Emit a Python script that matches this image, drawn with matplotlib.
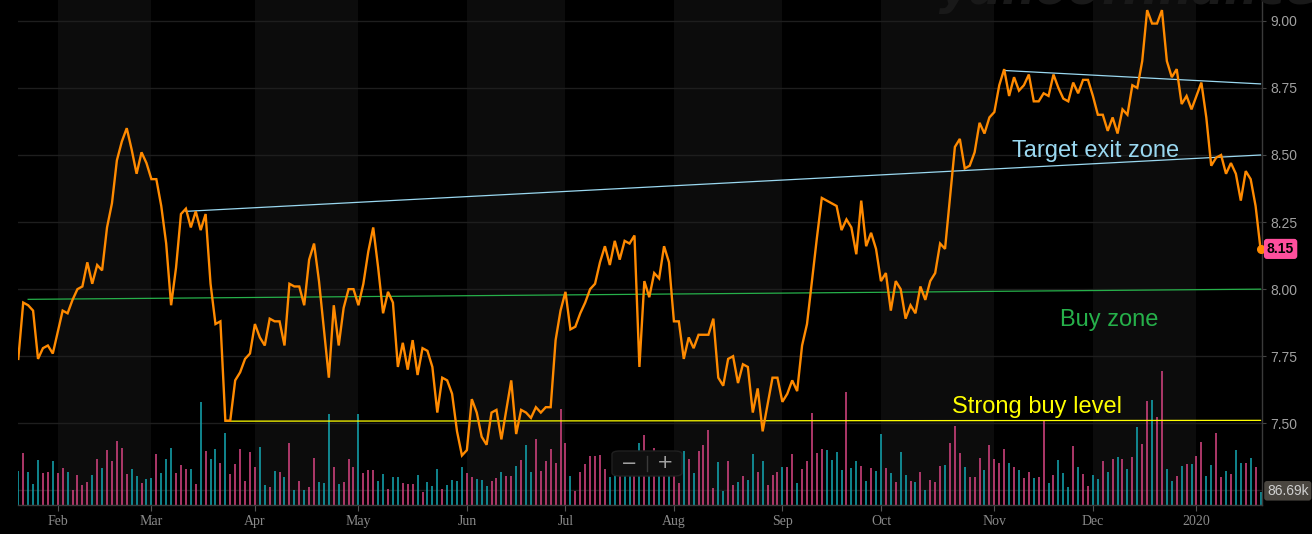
import matplotlib
matplotlib.use("Agg")
import matplotlib.pyplot as plt
import matplotlib.transforms as mtransforms
from matplotlib.patches import FancyBboxPatch
import numpy as np
import pandas as pd

# trading days (NYSE holidays removed)
holidays = ["2019-02-18", "2019-04-19", "2019-05-27", "2019-07-04", "2019-09-02",
            "2019-11-28", "2019-12-25", "2020-01-01", "2020-01-20"]
dates = pd.bdate_range("2019-01-22", "2020-01-22", freq="C", holidays=holidays)

price = [
    7.74, 7.95, 7.94, 7.92, 7.74, 7.78, 7.79, 7.76, 7.84, 7.92,
    7.91, 7.96, 8.00, 8.01, 8.10, 8.02, 8.09, 8.07, 8.23, 8.32,
    8.48, 8.55, 8.60, 8.52, 8.43, 8.51, 8.47, 8.41, 8.41, 8.31,
    8.17, 7.94, 8.08, 8.28, 8.30, 8.23, 8.29, 8.22, 8.28, 8.02,
    7.87, 7.88, 7.51, 7.51, 7.66, 7.69, 7.74, 7.76, 7.87, 7.82,
    7.79, 7.89, 7.88, 7.88, 7.79, 8.02, 8.01, 8.01, 7.94, 8.11,
    8.17, 8.03, 7.85, 7.67, 7.94, 7.79, 7.93, 8.00, 8.00, 7.94,
    8.02, 8.14, 8.23, 8.08, 7.91, 7.99, 7.95, 7.71, 7.80, 7.70,
    7.81, 7.68, 7.78, 7.77, 7.71, 7.54, 7.67, 7.66, 7.61, 7.47,
    7.38, 7.40, 7.59, 7.54, 7.45, 7.42, 7.54, 7.55, 7.44, 7.55,
    7.66, 7.46, 7.55, 7.54, 7.52, 7.56, 7.54, 7.56, 7.56, 7.81,
    7.92, 7.99, 7.85, 7.86, 7.91, 7.95, 8.00, 8.02, 8.10, 8.16,
    8.09, 8.18, 8.11, 8.18, 8.17, 8.20, 7.71, 8.03, 7.97, 8.06,
    8.04, 8.16, 8.10, 7.88, 7.88, 7.74, 7.82, 7.78, 7.83, 7.83,
    7.83, 7.89, 7.67, 7.64, 7.74, 7.75, 7.65, 7.72, 7.71, 7.54,
    7.63, 7.47, 7.57, 7.67, 7.67, 7.58, 7.61, 7.66, 7.62, 7.79,
    7.87, 8.03, 8.19, 8.34, 8.33, 8.32, 8.31, 8.22, 8.26, 8.23,
    8.13, 8.33, 8.16, 8.21, 8.15, 8.03, 8.06, 7.92, 8.03, 8.00,
    7.89, 7.94, 7.91, 8.01, 7.96, 8.03, 8.06, 8.17, 8.15, 8.34,
    8.53, 8.56, 8.45, 8.46, 8.51, 8.62, 8.58, 8.64, 8.66, 8.76,
    8.82, 8.72, 8.79, 8.74, 8.76, 8.80, 8.70, 8.70, 8.73, 8.72,
    8.80, 8.75, 8.71, 8.70, 8.77, 8.73, 8.78, 8.78, 8.72, 8.65,
    8.65, 8.59, 8.64, 8.58, 8.67, 8.65, 8.76, 8.75, 8.85, 9.04,
    8.99, 8.99, 9.04, 8.85, 8.79, 8.82, 8.69, 8.72, 8.67, 8.72,
    8.77, 8.64, 8.46, 8.49, 8.50, 8.43, 8.47, 8.43, 8.33, 8.44,
    8.41, 8.31, 8.15,
]

# volume in thousands
volume_k = [
    227, 347, 220, 140, 300, 213, 220, 293, 213, 247,
    220, 100, 200, 133, 153, 200, 307, 247, 367, 293,
    427, 380, 207, 240, 193, 147, 173, 180, 340, 213,
    307, 380, 213, 267, 240, 240, 140, 687, 360, 307,
    373, 280, 480, 207, 273, 373, 160, 353, 253, 387,
    133, 120, 227, 220, 187, 413, 100, 160, 100, 120,
    313, 153, 147, 607, 253, 140, 153, 307, 253, 607,
    213, 233, 233, 160, 207, 107, 187, 187, 147, 140,
    140, 200, 87, 153, 127, 240, 107, 133, 167, 160,
    253, 213, 187, 173, 167, 127, 160, 180, 220, 193,
    193, 260, 300, 400, 220, 440, 227, 293, 373, 280,
    640, 413, 193, 93, 220, 273, 327, 327, 333, 240,
    187, 273, 267, 253, 233, 267, 413, 467, 300, 380,
    267, 253, 233, 267, 147, 360, 307, 213, 360, 400,
    500, 113, 287, 93, 293, 133, 153, 193, 167, 340,
    220, 293, 133, 200, 220, 253, 253, 340, 147, 240,
    293, 613, 347, 373, 367, 300, 353, 233, 753, 247,
    293, 260, 160, 247, 227, 473, 247, 213, 153, 353,
    200, 160, 153, 220, 100, 167, 153, 260, 267, 413,
    527, 347, 253, 187, 187, 313, 233, 400, 307, 280,
    373, 280, 253, 233, 180, 220, 180, 187, 567, 147,
    200, 300, 213, 120, 393, 253, 207, 127, 200, 173,
    293, 220, 307, 320, 307, 240, 320, 520, 407, 693,
    700, 587, 893, 240, 160, 193, 260, 273, 273, 327,
    420, 193, 267, 480, 187, 227, 207, 367, 280, 280,
    313, 253, 86.69,
]

# u = teal bar, d = pink bar
vol_dir = ("uduuu" "ddudd" "udddd" "ududd" "ddduu" "duudu" "uuddd" "ududu"
           "ududd" "ddddu" "ududu" "dudud" "duuud" "udddu" "ddduu" "duudd"
           "duduu" "uduuu" "udduu" "uddud" "duduu" "ddddd" "ddudd" "ddddd"
           "uuduu" "dudud" "ududd" "ududd" "dduud" "duduu" "duddd" "uddud"
           "ddddu" "uuudu" "ududu" "ududu" "ududu" "dddud" "ddudd" "duddd"
           "dudud" "duddu" "duuud" "udduu" "dudud" "ududd" "udduu" "dudud"
           "duudd" "uduud" "udu")

# drawn trend lines: (date, price) end points
target_top = [("2019-11-05", 8.815), ("2020-01-22", 8.765)]
target_bottom = [("2019-03-12", 8.29), ("2020-01-22", 8.50)]
buy_line = [("2019-01-24", 7.962), ("2020-01-22", 8.00)]
strong_buy = [("2019-03-22", 7.508), ("2020-01-22", 7.511)]

last_price = 8.15
last_volume = "86.69k"

ORANGE = "#ff8a00"
SKY = "#9ad8f0"
GREEN = "#26b04a"
YELLOW = "#ffff00"
TEAL = "#13a3ae"
PINK = "#d2437f"

n = len(dates)
x = np.arange(n)
pos = {d: i for i, d in enumerate(dates)}

W, H = 1312, 534
fig = plt.figure(figsize=(W / 100, H / 100), dpi=100, facecolor="black")
rect = [18 / W, 29 / H, 1244 / W, 505 / H]
xlim = (-0.06, 252.3)
ylim = (7.1955, 9.0777)
grid_levels = [7.25, 7.5, 7.75, 8.0, 8.25, 8.5, 8.75, 9.0]

# volume underlay axes (month bands, grid, bars)
ax_v = fig.add_axes(rect)
ax_v.set_facecolor("black")
month_starts = [i for i in range(1, n) if dates[i].month != dates[i - 1].month]
for k, i0 in enumerate(month_starts):
    if dates[i0].month % 2 == 0:
        i1 = month_starts[k + 1] if k + 1 < len(month_starts) else xlim[1]
        ax_v.axvspan(i0, i1, color="#0c0c0c", lw=0, zorder=0)
for g in grid_levels:
    f = (g - ylim[0]) / (ylim[1] - ylim[0])
    ax_v.plot([0, 1], [f, f], transform=ax_v.transAxes, color="#1e1e1e", lw=1, zorder=1)
bar_colors = [TEAL if c == "u" else PINK for c in vol_dir]
ax_v.vlines(x, 0, volume_k, colors=bar_colors, lw=1.15, zorder=2)
ax_v.set_xlim(*xlim)
ax_v.set_ylim(0, 3368)
ax_v.set_xticks([])
ax_v.set_yticks([])
for s in ax_v.spines.values():
    s.set_visible(False)

# price axes
ax = fig.add_axes(rect)
ax.patch.set_alpha(0)
ax.set_ylim(*ylim)
ax.set_xlim(*xlim)

for line, col in [(target_top, SKY), (target_bottom, SKY),
                  (buy_line, GREEN), (strong_buy, YELLOW)]:
    xs = [pos[pd.Timestamp(d)] for d, _ in line]
    ys = [p for _, p in line]
    ax.plot(xs, ys, color=col, lw=0.9, zorder=2)

ax.plot(x, price, color=ORANGE, lw=1.7, zorder=3, solid_joinstyle="miter")
ax.plot(x[-1], price[-1], "o", color=ORANGE, ms=5.5, zorder=4, clip_on=False)

ax.text(218.6, 8.494, "Target exit zone", color=SKY, fontsize=17,
        family="Liberation Sans", ha="center", va="baseline", zorder=5)
ax.text(221.4, 7.864, "Buy zone", color=GREEN, fontsize=17,
        family="Liberation Sans", ha="center", va="baseline", zorder=5)
ax.text(206.7, 7.537, "Strong buy level", color=YELLOW, fontsize=17,
        family="Liberation Sans", ha="center", va="baseline", zorder=5)

# axes styling
ax.yaxis.tick_right()
yt = [7.5, 7.75, 8.0, 8.25, 8.5, 8.75, 9.0]
ax.set_yticks(yt)
ax.set_yticklabels([f"{v:.2f}" for v in yt], family="Liberation Sans",
                   fontsize=10, color="#a0a0a0")
ax.tick_params(axis="y", length=3, color="#444444", pad=3)
ax.set_xticks(month_starts)
ax.set_xticklabels([str(dates[i].year) if dates[i].month == 1 else dates[i].strftime("%b")
                    for i in month_starts],
                   family="Liberation Serif", fontsize=10, color="#8a8a8a")
ax.tick_params(axis="x", length=4, color="#555555", pad=3.5)
for side in ["top", "left"]:
    ax.spines[side].set_visible(False)
for side in ["right", "bottom"]:
    ax.spines[side].set_color("#3a3a3a")
    ax.spines[side].set_linewidth(1)

# current price / volume badges
tr = mtransforms.blended_transform_factory(ax.transAxes, ax.transData)
ax.text(1.004, last_price, f"{last_price:.2f}", transform=tr, ha="left", va="center",
        fontsize=10, fontweight="bold", family="Liberation Sans", color="black",
        bbox=dict(boxstyle="round,pad=0.22", fc="#ff4f9d", ec="none"), zorder=6,
        clip_on=False)
trv = mtransforms.blended_transform_factory(ax_v.transAxes, ax_v.transData)
ax.text(1.004, volume_k[-1] + 8, last_volume, transform=trv, ha="left", va="center",
        fontsize=10, family="Liberation Sans", color="#cfcfcf",
        bbox=dict(boxstyle="round,pad=0.2", fc="#4a4640", ec="none"), zorder=6,
        clip_on=False)

# zoom control
fig.patches.append(FancyBboxPatch((612 / W, 58 / H), 70 / W, 25 / H,
                                  boxstyle="round,pad=0,rounding_size=0.006",
                                  transform=fig.transFigure, fc="#0f0f0f",
                                  ec="#202020", lw=1, zorder=10))
fig.text(629 / W, 71 / H, "\u2212", color="#a0a0a0", fontsize=14, ha="center",
         va="center", zorder=11)
fig.text(665 / W, 71 / H, "+", color="#a0a0a0", fontsize=14, ha="center",
         va="center", zorder=11)
fig.add_artist(plt.Line2D([647 / W, 647 / W], [63 / H, 78 / H], color="#3a3a3a",
                          lw=1, transform=fig.transFigure, zorder=11))

# faint watermark at the top
fig.text(1128 / W, 1 - 4 / H, "yahoo!finance", color="#191919", fontsize=34,
         fontweight="bold", style="italic", ha="center", va="baseline", zorder=1)

fig.savefig("out.png", dpi=100, facecolor="black")
